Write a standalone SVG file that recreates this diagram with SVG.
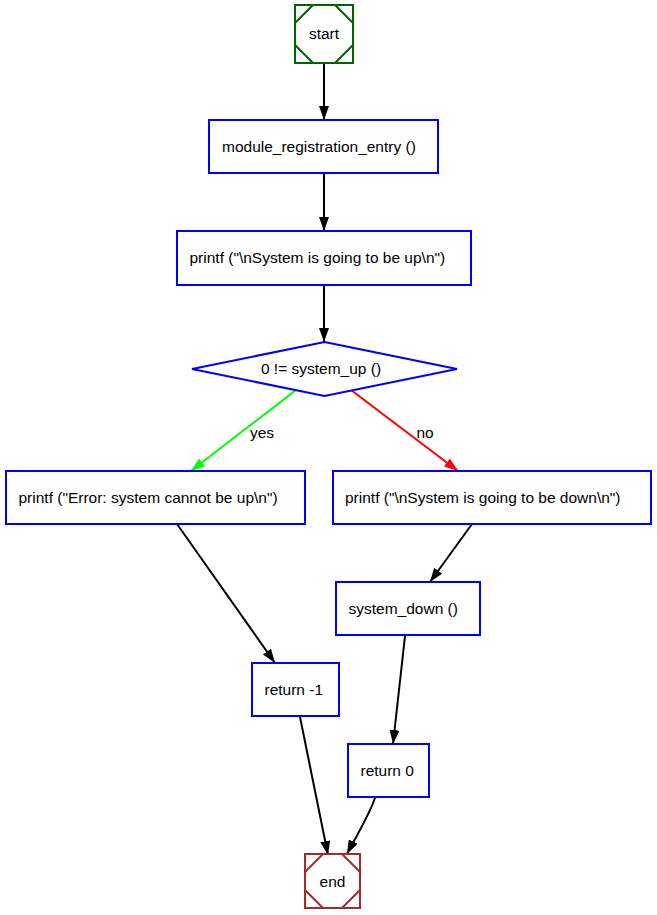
<svg xmlns="http://www.w3.org/2000/svg" width="657" height="915" viewBox="0 0 657 915">
<style>
text { font-family: "Liberation Sans", Arial, sans-serif; font-size: 15.5px; fill: #000; }
.m { text-anchor: middle; }
.box { fill: #fff; stroke: #0000ff; stroke-width: 2; }
.e { fill: none; stroke: #000; stroke-width: 2; }
</style>
<defs>
<marker id="ab" viewBox="0 0 14 10" refX="14" refY="5" markerWidth="14" markerHeight="10" markerUnits="userSpaceOnUse" orient="auto"><path d="M0,0 L14,5 L0,10 z" fill="#000"/></marker>
<marker id="ag" viewBox="0 0 14 10" refX="14" refY="5" markerWidth="14" markerHeight="10" markerUnits="userSpaceOnUse" orient="auto"><path d="M0,0 L14,5 L0,10 z" fill="#00ff00"/></marker>
<marker id="ar" viewBox="0 0 14 10" refX="14" refY="5" markerWidth="14" markerHeight="10" markerUnits="userSpaceOnUse" orient="auto"><path d="M0,0 L14,5 L0,10 z" fill="#ff0000"/></marker>
</defs>
<rect width="657" height="915" fill="#fff"/>
<g id="edges">
<path class="e" d="M324,63 L324,120" marker-end="url(#ab)"/>
<path class="e" d="M324,174 L324,231" marker-end="url(#ab)"/>
<path class="e" d="M324,285 L324,342" marker-end="url(#ab)"/>
<path d="M296,390 L191,471" fill="none" stroke="#00ff00" stroke-width="2" marker-end="url(#ag)"/>
<text class="m" x="262" y="438">yes</text>
<path d="M351,390 L458,471" fill="none" stroke="#ff0000" stroke-width="2" marker-end="url(#ar)"/>
<text class="m" x="425" y="438">no</text>
<path class="e" d="M177,524 L275,663" marker-end="url(#ab)"/>
<path class="e" d="M472,524 L430,582" marker-end="url(#ab)"/>
<path class="e" d="M405,636 L393,744" marker-end="url(#ab)"/>
<path class="e" d="M300,717 L328,855" marker-end="url(#ab)"/>
<path class="e" d="M375,798 C368,818 356,836 347,854" marker-end="url(#ab)"/>
</g>
<g id="start">
<rect x="295" y="5" width="58" height="58" fill="#fff" stroke="#006400" stroke-width="2"/>
<path d="M295,23 L313,5 M335,5 L353,23 M353,45 L335,63 M313,63 L295,45" fill="none" stroke="#006400" stroke-width="2"/>
<text class="m" x="324" y="39">start</text>
</g>
<g id="module_registration_entry">
<rect class="box" x="209" y="120" width="229" height="53"/>
<text x="222" y="152">module_registration_entry ()</text>
</g>
<g id="printf_up">
<rect class="box" x="177" y="231" width="294" height="54"/>
<text x="189.5" y="263">printf ("\nSystem is going to be up\n")</text>
</g>
<g id="cond">
<polygon class="box" points="324.5,342 457,369 324.5,396 192,369"/>
<text class="m" x="321" y="374">0 != system_up ()</text>
</g>
<g id="printf_error">
<rect class="box" x="6" y="471" width="299" height="53"/>
<text x="18.5" y="503">printf ("Error: system cannot be up\n")</text>
</g>
<g id="printf_down">
<rect class="box" x="333" y="471" width="318" height="53"/>
<text x="345" y="503">printf ("\nSystem is going to be down\n")</text>
</g>
<g id="system_down">
<rect class="box" x="336" y="582" width="144" height="53"/>
<text x="348.5" y="614">system_down ()</text>
</g>
<g id="return_m1">
<rect class="box" x="252" y="663" width="87" height="53"/>
<text x="264.5" y="695">return -1</text>
</g>
<g id="return_0">
<rect class="box" x="348" y="744" width="81" height="53"/>
<text x="360.5" y="776">return 0</text>
</g>
<g id="end">
<rect x="305" y="854" width="55" height="54" fill="#fff" stroke="#a52a2a" stroke-width="2"/>
<path d="M305,872 L323,854 M342,854 L360,872 M360,890 L342,908 M323,908 L305,890" fill="none" stroke="#a52a2a" stroke-width="2"/>
<text class="m" x="332.5" y="887">end</text>
</g>
</svg>
